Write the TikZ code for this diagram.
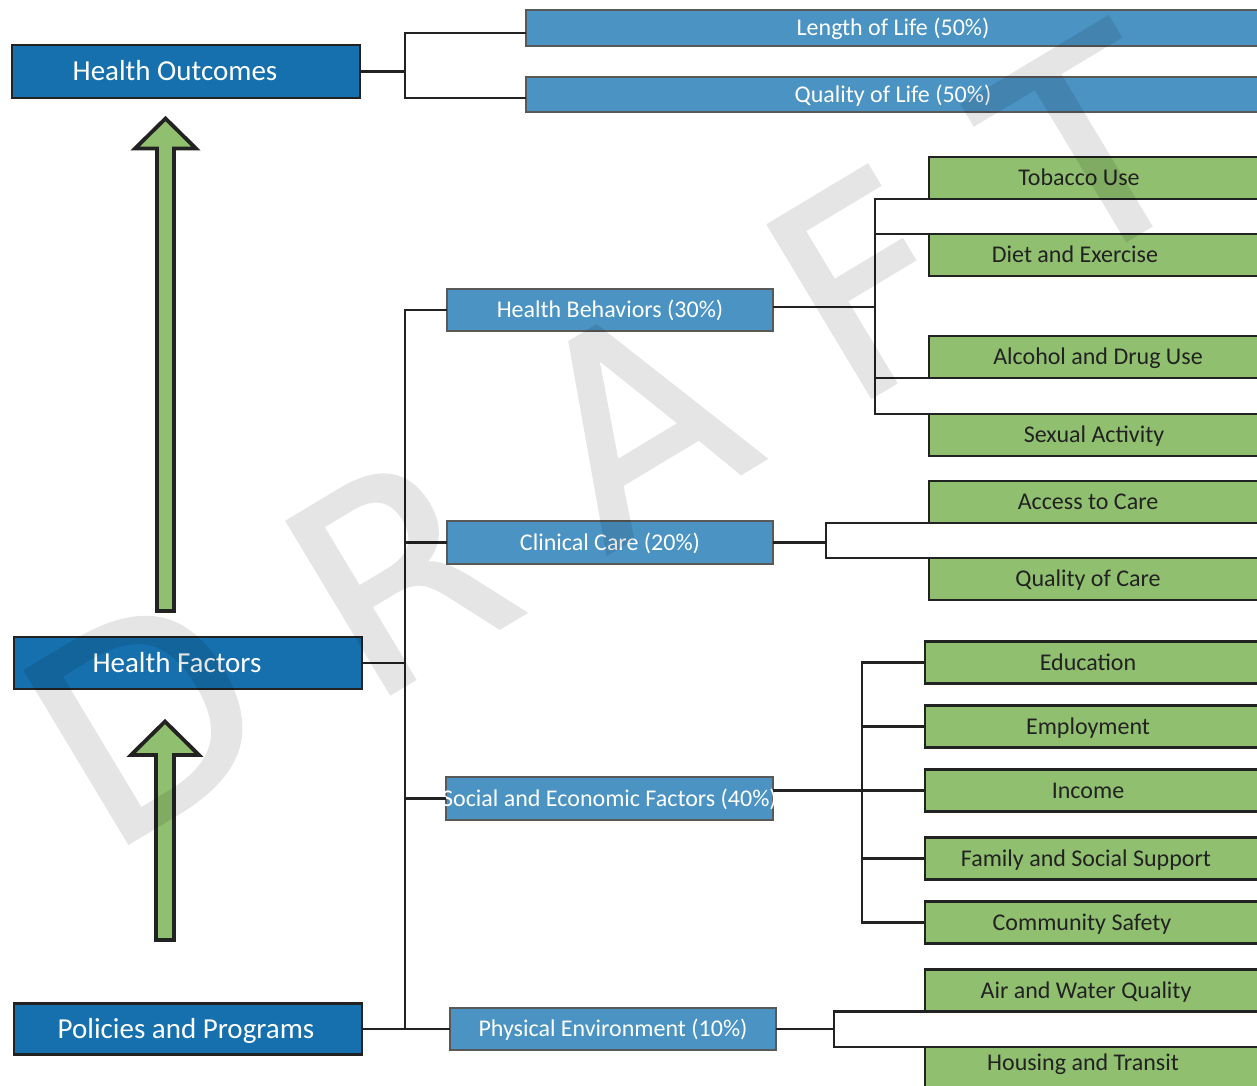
\documentclass[tikz,border=0pt]{standalone}
\usepackage{fontspec}
\setmainfont{Carlito}
\newfontfamily\wmfont[FakeBold=1.3]{DejaVu Sans}
\usetikzlibrary{calc}
\definecolor{dblue}{HTML}{1570AD}
\definecolor{mblue}{HTML}{4A93C3}
\definecolor{lgreen}{HTML}{8FBF6F}
\definecolor{ink}{HTML}{222222}
\definecolor{mborder}{HTML}{595959}
\newcommand\shtext[2]{\makebox[0pt]{\hspace*{#1}#2}}
\tikzset{
  dbox/.style={rectangle, fill=dblue, draw=ink, line width=2.8pt, text=white,
    font=\fontsize{29pt}{34pt}\selectfont, text height=18.7pt, text depth=0pt,
    inner sep=0pt, outer sep=0pt, minimum width=348pt},
  mbox/.style={rectangle, fill=mblue, draw=mborder, line width=2.5pt, text=white,
    font=\fontsize{24pt}{29pt}\selectfont, text height=15.5pt, text depth=0pt,
    inner sep=0pt, outer sep=0pt},
  gbox/.style={rectangle, fill=lgreen, draw=ink, line width=2.6pt, text=ink,
    font=\fontsize{24pt}{29pt}\selectfont, text height=15.5pt, text depth=0pt,
    inner sep=0pt, outer sep=0pt, minimum height=42pt},
  gboxA/.style={gbox, minimum width=333pt},
  gboxB/.style={gbox, minimum width=337pt},
  conn/.style={draw=ink, line width=2.6pt},
  bigarrow/.style={fill=lgreen, draw=ink, line width=3.8pt, line join=miter},
  wm/.style={text=black, font=\wmfont\fontsize{275pt}{290pt}\selectfont,
    inner sep=0pt, rotate=31}
}
\begin{document}
\begin{tikzpicture}[x=1pt, y=-1pt]
\useasboundingbox (0,0) rectangle (1257,1085);
\fill[white] (0,0) rectangle (1257,1085);
\clip (0,0) rectangle (1257,1085);

% ---- level 1 boxes
\node[dbox, minimum height=53pt] (ho) at (186,71.5) {\shtext{-22pt}{Health Outcomes}};
\node[dbox, minimum height=52pt] (hf) at (188,663) {\shtext{-22pt}{Health Factors}};
\node[dbox, minimum height=51pt] (pp) at (188,1029) {\shtext{-4pt}{Policies and Programs}};

% ---- level 2 boxes
\node[mbox, minimum width=734pt, minimum height=36pt] (lol) at (893,28) {Length of Life (50\%)};
\node[mbox, minimum width=734pt, minimum height=35pt] (qol) at (893,94.5) {Quality of Life (50\%)};
\node[mbox, minimum width=326pt, minimum height=42pt] (hb) at (610,310) {Health Behaviors (30\%)};
\node[mbox, minimum width=326pt, minimum height=43pt] (cc) at (610,542.5) {Clinical Care (20\%)};
\node[mbox, minimum width=327pt, minimum height=43pt] (sef) at (609.5,798.5) {\shtext{0pt}{Social and Economic Factors (40\%)}};
\node[mbox, minimum width=326pt, minimum height=42pt] (pe) at (613,1029) {Physical Environment (10\%)};

% ---- level 3 boxes
\node[gboxA] (tob) at (1095.5,178) {\shtext{-33pt}{Tobacco Use}};
\node[gboxA] (diet) at (1095.5,255) {\shtext{-41pt}{Diet and Exercise}};
\node[gboxA] (alc) at (1095.5,357) {\shtext{5pt}{Alcohol and Drug Use}};
\node[gboxA] (sex) at (1095.5,435) {\shtext{-3pt}{Sexual Activity}};
\node[gboxA] (acc) at (1095.5,502) {\shtext{-15pt}{Access to Care}};
\node[gboxA] (qoc) at (1095.5,579) {\shtext{-15pt}{Quality of Care}};
\node[gboxB] (edu) at (1093.5,662.5) {\shtext{-11pt}{Education}};
\node[gboxB] (emp) at (1093.5,726.5) {\shtext{-11pt}{Employment}};
\node[gboxB] (inc) at (1093.5,790.5) {\shtext{-11pt}{Income}};
\node[gboxB] (fam) at (1093.5,858.5) {\shtext{-15pt}{Family and Social Support}};
\node[gboxB] (com) at (1093.5,922.5) {\shtext{-23pt}{Community Safety}};
\node[gboxB] (air) at (1093.5,990.5) {\shtext{-15pt}{Air and Water Quality}};
\node[gboxB] (hou) at (1093.5,1068) {\shtext{-21pt}{\raisebox{5pt}{Housing and Transit}}};

% ---- junction coordinates
\coordinate (hoJ) at (405,71.5);
\coordinate (trunkB) at (405,1029);
\coordinate (hbJ) at (875,307);
\coordinate (ccJ) at (826,542.5);
\coordinate (sefJ) at (862,790.5);
\coordinate (peJ) at (834,1029);

% ---- connectors
\draw[conn] (ho.east) -- (hoJ);
\draw[conn] ([yshift=-5pt]lol.west) -| (hoJ) |- ([yshift=-3.5pt]qol.west);

\draw[conn] (hb.west) -| (trunkB);
\draw[conn] (hf.east) -- (hf.east -| trunkB);
\draw[conn] (cc.west) -- (cc.west -| trunkB);
\draw[conn] (sef.west) -- (sef.west -| trunkB);
\draw[conn] (pp.east) -- (pe.west);

\draw[conn] ([yshift=3pt]hb.east) -- (hbJ);
\draw[conn] (tob.south west) -| (hbJ);
\draw[conn] (sex.north west) -| (hbJ);
\draw[conn] (diet.north west) -- (diet.north west -| hbJ);
\draw[conn] (alc.south west) -- (alc.south west -| hbJ);

\draw[conn] (cc.east) -- (ccJ);
\draw[conn] (acc.south west) -| (ccJ) |- (qoc.north west);

\draw[conn] (sef.east |- inc.west) -- (inc.west);
\draw[conn] (edu.west) -| (sefJ);
\draw[conn] (com.west) -| (sefJ);
\draw[conn] (emp.west) -- (emp.west -| sefJ);
\draw[conn] (fam.west) -- (fam.west -| sefJ);

\draw[conn] (pe.east) -- (peJ);
\draw[conn] (air.south west) -| (peJ) |- (hou.north west);

% ---- big arrows
\draw[bigarrow] (165.5,118.5) -- (196,148.5) -- (174,148.5) -- (174,611) -- (157,611)
  -- (157,148.5) -- (135,148.5) -- cycle;
\draw[bigarrow] (165,721.5) -- (199,755) -- (174,755) -- (174,940) -- (156,940)
  -- (156,755) -- (131,755) -- cycle;

% ---- watermark
\begin{scope}[transparency group, opacity=0.1]
\node[wm] (wmD) at (145,716) {D};
\node[wm] (wmR) at (398,572) {R};
\node[wm] (wmA) at (635,420) {A};
\node[wm] (wmF) at (865,284) {F};
\node[wm] (wmT) at (1087,147) {T};
\end{scope}
\end{tikzpicture}
\end{document}
